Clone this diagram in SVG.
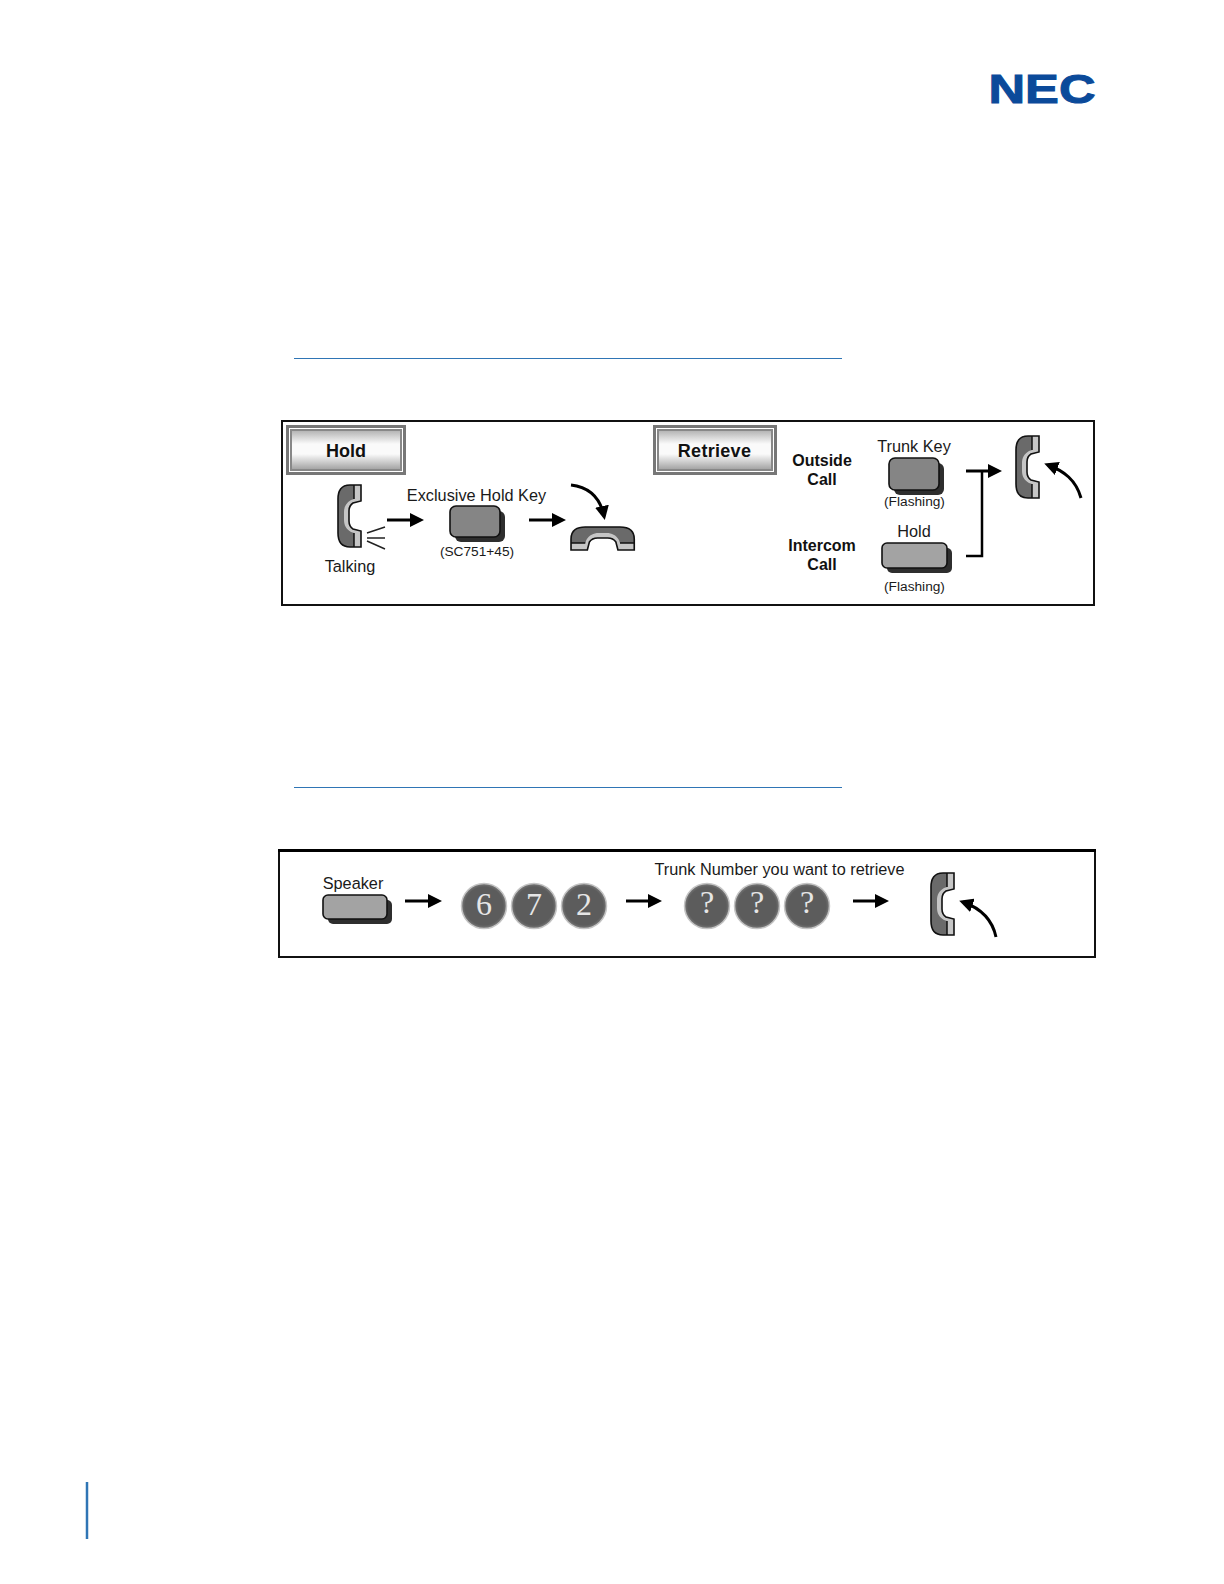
<svg xmlns="http://www.w3.org/2000/svg" xmlns:xlink="http://www.w3.org/1999/xlink" width="1224" height="1584" viewBox="0 0 1224 1584">
<style>
text{font-family:"Liberation Sans",Arial,sans-serif;fill:#1a1a1a;text-anchor:middle}
.b{font-weight:bold;fill:#111;font-size:16px}
.n{font-size:16.3px}
.s{font-size:13.7px}
.lab{font-size:18px;font-weight:bold;fill:#111}
.frame{fill:#fff;stroke:#111;stroke-width:2}
.line{fill:none;stroke:#000;stroke-width:3}
.thin{fill:none;stroke:#222;stroke-width:1.5}
.rule{stroke:#2f75b5;stroke-width:1}
.num{font-family:"Liberation Serif","Times New Roman",serif;font-size:32px;fill:#e6e6e6}
.ball{fill:url(#orb);stroke:#c4c4c4;stroke-width:1.5}
.shadow{fill:#2e2e2e}
.key{stroke:#111;stroke-width:1.6}
</style>
<defs>
<linearGradient id="sheen" x1="0" y1="0" x2="0" y2="1">
<stop offset="0" stop-color="#b0b0b0"/><stop offset=".35" stop-color="#fafafa"/><stop offset=".6" stop-color="#fafafa"/><stop offset="1" stop-color="#a0a0a0"/>
</linearGradient>
<radialGradient id="orb" cx=".5" cy=".5" r=".5">
<stop offset="0" stop-color="#5c5c5c"/><stop offset=".85" stop-color="#5c5c5c"/><stop offset="1" stop-color="#7a7a7a"/>
</radialGradient>
<marker id="head" markerUnits="userSpaceOnUse" markerWidth="15" markerHeight="14" refX="10" refY="7" orient="auto">
<path d="M0,0 L14,7 L0,14 Z" fill="#000"/>
</marker>
<g id="handset">
<path d="M24,1 H13 C4,1 1,7 1,15 V49 C1,57 4,63 13,63 H24 V47 L16,45 C13,43 12,40 12,37 V27 C12,24 13,21 16,19 L24,17 Z" fill="#6a6a6a"/>
<path d="M17,1 H24 V17 L16,19 C13,21 12,24 12,27 V37 C12,40 13,43 16,45 L24,47 V63 H17 V49 L14,48 C9,45 7,41 7,36 V28 C7,23 9,19 14,16 L17,15 Z" fill="#c6c6c6"/>
<path d="M17,1 V15 M17,49 V63" stroke="#111" stroke-width="1.5" fill="none"/>
<path d="M24,1 H13 C4,1 1,7 1,15 V49 C1,57 4,63 13,63 H24 V47 L16,45 C13,43 12,40 12,37 V27 C12,24 13,21 16,19 L24,17 Z" fill="none" stroke="#111" stroke-width="1.6"/>
</g>
</defs>
<rect width="1224" height="1584" fill="#fff"/>

<g id="nec-logo"><text x="1042" y="103" font-size="41" font-weight="bold" textLength="107" lengthAdjust="spacingAndGlyphs" stroke="#0b4a9a" stroke-width="1" style="fill:#0b4a9a">NEC</text></g>
<line class="rule" x1="294" y1="358.5" x2="842" y2="358.5"/>
<line class="rule" x1="294" y1="787.5" x2="842" y2="787.5"/>
<line x1="87" y1="1482" x2="87" y2="1539" stroke="#2f75b5" stroke-width="2.5"/>

<g id="hold-panel"><rect class="frame" x="282" y="421" width="812" height="184"/></g>
<g id="speaker-panel"><rect class="frame" x="279" y="850" width="816" height="107"/><line x1="278" y1="850.5" x2="1096" y2="850.5" stroke="#000" stroke-width="3"/></g>

<g id="hold-label">
<rect x="287.5" y="426.5" width="117" height="47" fill="#fff" stroke="#777" stroke-width="3"/>
<rect x="291" y="430" width="110" height="40" fill="url(#sheen)" stroke="#888" stroke-width="2"/>
<text class="lab" x="346" y="457">Hold</text>
</g>
<g id="retrieve-label">
<rect x="654.5" y="426.5" width="121" height="47" fill="#fff" stroke="#777" stroke-width="3"/>
<rect x="658" y="430" width="114" height="40" fill="url(#sheen)" stroke="#888" stroke-width="2"/>
<text class="lab" x="714.500" y="457" letter-spacing=".3">Retrieve</text>
</g>

<g id="talking">
<use xlink:href="#handset" href="#handset" x="337" y="484"/>
<path class="thin" d="M367,533 L385,527 M367,538 L385,538 M367,541 L385,549"/>
<text class="n" x="350" y="572">Talking</text>
</g>
<g id="exclusive-hold-key">
<rect class="shadow" x="455" y="511" width="50" height="31" rx="6"/>
<rect class="key" x="450" y="506" width="50" height="31" rx="6" fill="#858585"/>
<text class="n" x="476.500" y="501">Exclusive Hold Key</text>
<text class="s" x="477" y="556">(SC751+45)</text>
</g>
<g id="hang-up">
<use xlink:href="#handset" href="#handset" transform="matrix(0,1,1.02,0,570,526)"/>
</g>

<g id="outside-call"><text class="b" x="822" y="466">Outside</text><text class="b" x="822" y="485">Call</text></g>
<g id="trunk-key">
<rect class="shadow" x="894" y="463" width="50" height="32" rx="6"/>
<rect class="key" x="889" y="458" width="50" height="32" rx="6" fill="#858585"/>
<text class="n" x="914" y="452">Trunk Key</text>
<text class="s" x="914.500" y="506">(Flashing)</text>
</g>
<g id="intercom-call"><text class="b" x="822" y="551">Intercom</text><text class="b" x="822" y="570">Call</text></g>
<g id="hold-key">
<rect class="shadow" x="887" y="548" width="65" height="25" rx="5"/>
<rect class="key" x="882" y="543" width="65" height="25" rx="5" fill="#a3a3a3"/>
<text class="n" x="914" y="537">Hold</text>
<text class="s" x="914.500" y="591">(Flashing)</text>
</g>
<g id="lift-handset-1"><use xlink:href="#handset" href="#handset" x="1015" y="435"/></g>

<g id="speaker-key">
<rect class="shadow" x="328" y="900" width="64" height="24" rx="5"/>
<rect class="key" x="323" y="895" width="64" height="24" rx="5" fill="#a3a3a3"/>
<text class="n" x="353" y="889">Speaker</text>
</g>
<g id="dial-6"><circle class="ball" cx="484" cy="906" r="22.5"/><text class="num" x="484" y="915">6</text></g>
<g id="dial-7"><circle class="ball" cx="534" cy="906" r="22.5"/><text class="num" x="534" y="915">7</text></g>
<g id="dial-2"><circle class="ball" cx="584" cy="906" r="22.5"/><text class="num" x="584" y="915">2</text></g>
<g id="trunk-number"><text class="n" x="779.500" y="875">Trunk Number you want to retrieve</text></g>
<g id="dial-q1"><circle class="ball" cx="707" cy="906" r="22.5"/><text class="num" x="707" y="913">?</text></g>
<g id="dial-q2"><circle class="ball" cx="757" cy="906" r="22.5"/><text class="num" x="757" y="913">?</text></g>
<g id="dial-q3"><circle class="ball" cx="807" cy="906" r="22.5"/><text class="num" x="807" y="913">?</text></g>
<g id="lift-handset-2"><use xlink:href="#handset" href="#handset" x="930" y="872"/></g>

<g id="connectors">
<line class="line" x1="387" y1="520" x2="420" y2="520" marker-end="url(#head)"/>
<line class="line" x1="529" y1="520" x2="562" y2="520" marker-end="url(#head)"/>
<path class="line" d="M571,485 C588,487 600,497 604,516" marker-end="url(#head)"/>
<line class="line" x1="966" y1="471" x2="998" y2="471" marker-end="url(#head)"/>
<path class="line" style="stroke-width:2.5" d="M966,556 H982 V471"/>
<path class="line" d="M1081,498 C1076,480 1064,471 1048,465" marker-end="url(#head)"/>
<line class="line" x1="405" y1="901" x2="438" y2="901" marker-end="url(#head)"/>
<line class="line" x1="626" y1="901" x2="658" y2="901" marker-end="url(#head)"/>
<line class="line" x1="853" y1="901" x2="885" y2="901" marker-end="url(#head)"/>
<path class="line" d="M996,937 C992,918 980,908 963,902" marker-end="url(#head)"/>
</g>
</svg>
